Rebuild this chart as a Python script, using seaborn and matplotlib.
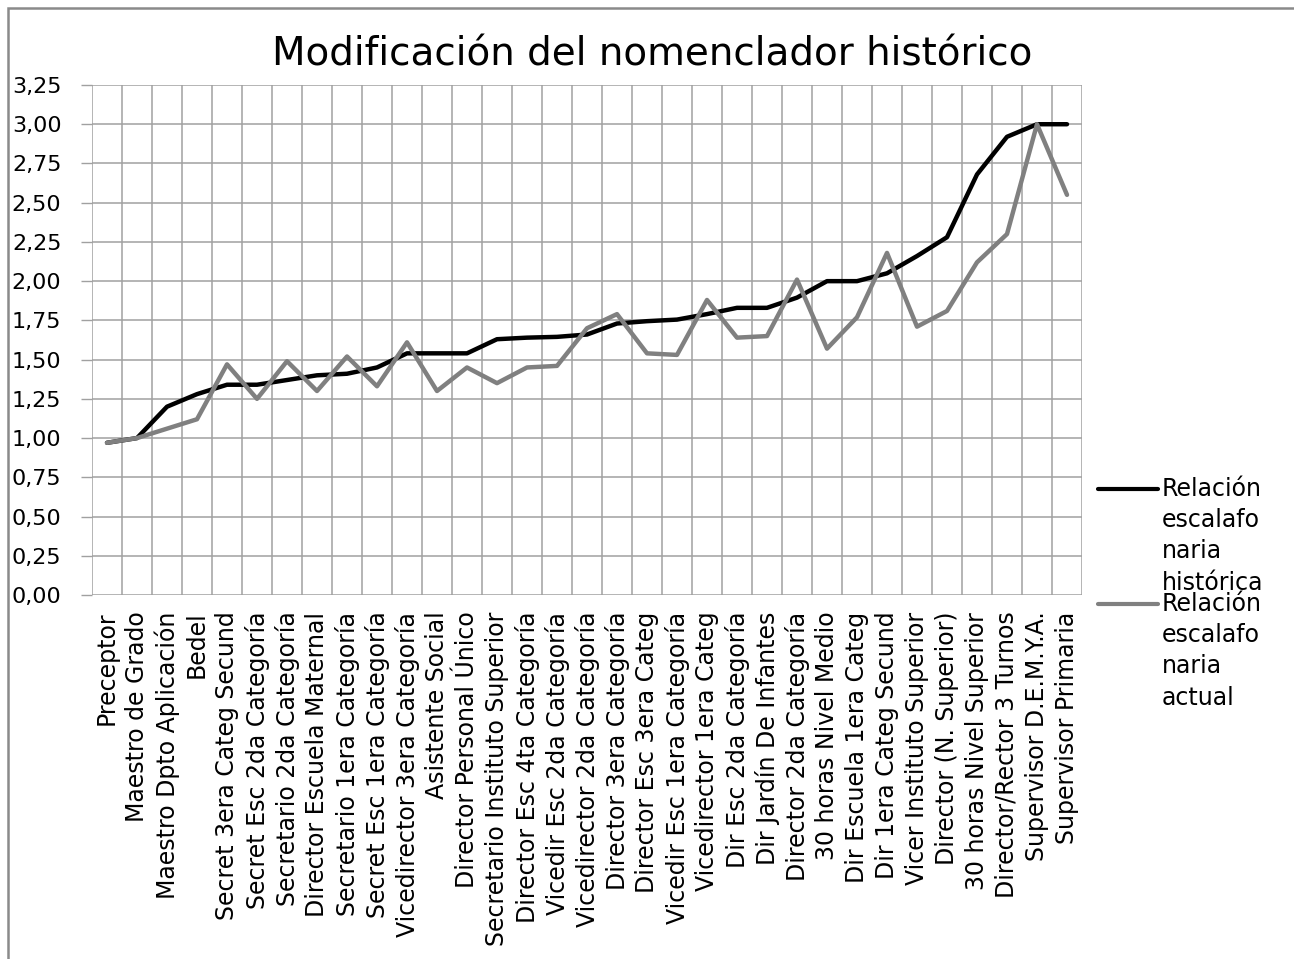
import matplotlib
matplotlib.use("Agg")
import matplotlib.pyplot as plt
import seaborn as sns
import pandas as pd
import numpy as np
from matplotlib.lines import Line2D
from matplotlib.patches import Rectangle

categories = [
    "Preceptor", "Maestro de Grado", "Maestro Dpto Aplicación", "Bedel",
    "Secret 3era Categ Secund", "Secret Esc 2da Categoría", "Secretario 2da Categoría",
    "Director Escuela Maternal", "Secretario 1era Categoría", "Secret Esc 1era Categoría",
    "Vicedirector 3era Categoría", "Asistente Social", "Director Personal Único",
    "Secretario Instituto Superior", "Director Esc 4ta Categoría", "Vicedir Esc 2da Categoría",
    "Vicedirector 2da Categoría", "Director 3era Categoría", "Director Esc 3era Categ",
    "Vicedir Esc 1era Categoría", "Vicedirector 1era Categ", "Dir Esc 2da Categoría",
    "Dir Jardín De Infantes", "Director 2da Categoría", "30 horas Nivel Medio",
    "Dir Escuela 1era Categ", "Dir 1era Categ Secund", "Vicer Instituto Superior",
    "Director (N. Superior)", "30 horas Nivel Superior", "Director/Rector 3 Turnos",
    "Supervisor D.E.M.Y.A.", "Supervisor Primaria",
]

historica = [0.97, 1.00, 1.20, 1.28, 1.34, 1.34, 1.37, 1.40, 1.41, 1.45,
             1.54, 1.54, 1.54, 1.63, 1.64, 1.645, 1.66, 1.73, 1.745, 1.755,
             1.79, 1.83, 1.83, 1.895, 2.00, 2.00, 2.05, 2.16, 2.28, 2.68,
             2.92, 3.00, 3.00]

actual = [0.97, 1.00, 1.06, 1.12, 1.47, 1.25, 1.49, 1.30, 1.52, 1.33,
          1.61, 1.30, 1.45, 1.35, 1.45, 1.46, 1.70, 1.79, 1.54, 1.53,
          1.88, 1.64, 1.65, 2.01, 1.57, 1.77, 2.18, 1.71, 1.81, 2.12,
          2.30, 3.00, 2.55]

series_names = ["Relación\nescalafo\nnaria\nhistórica", "Relación\nescalafo\nnaria\nactual"]
series_colors = ["#000000", "#808080"]
y_ticks = [0.0, 0.25, 0.5, 0.75, 1.0, 1.25, 1.5, 1.75, 2.0, 2.25, 2.5, 2.75, 3.0, 3.25]
title = "Modificación del nomenclador histórico"

n = len(categories)
df = pd.DataFrame({
    "idx": list(range(n)) * 2,
    "valor": historica + actual,
    "serie": [series_names[0]] * n + [series_names[1]] * n,
})

sns.set_theme(style="white")
plt.rcParams["font.family"] = ["DejaVu Sans"]
plt.rcParams["text.color"] = "black"
plt.rcParams["xtick.color"] = "black"
plt.rcParams["ytick.color"] = "black"

W, H = 1294, 959
fig = plt.figure(figsize=(W / 100, H / 100), dpi=100)
ax = fig.add_axes([92 / W, 1 - 595 / H, (1082 - 92) / W, (595 - 85) / H])

sns.lineplot(data=df, x="idx", y="valor", hue="serie", palette=series_colors,
             hue_order=series_names, sort=False, linewidth=3.2, legend=False, ax=ax,
             zorder=3)

ax.set_xlim(-0.5, n - 0.5)
ax.set_ylim(0, 3.25)
ax.set_xticks(range(n))
ax.set_xticklabels(categories, rotation=90, fontsize=17, va="top", ha="center",
                   color="black")
ax.set_xticks(np.arange(-0.5, n, 1.0), minor=True)
ax.set_yticks(y_ticks)
ax.set_yticklabels([f"{v:.2f}".replace(".", ",") for v in y_ticks], fontsize=16,
                   color="black")
ax.tick_params(axis="x", which="both", length=0, pad=12)
ax.tick_params(axis="y", which="major", length=8, width=1.0, color="#a0a0a0",
               direction="out", pad=14, left=True)
ax.grid(False)
ax.grid(True, axis="x", which="minor", color="#a0a0a0", linewidth=1.1)
ax.grid(True, axis="y", which="major", color="#a0a0a0", linewidth=1.1)
for s in ax.spines.values():
    s.set_visible(False)
ax.set_xlabel("")
ax.set_ylabel("")

fig.text(652.5 / W, 1 - 65 / H, title, fontsize=28, ha="center", va="baseline",
         color="black")

# legend (drawn manually so the key sits beside the first line of each label)
leg_rows = [489, 604]
for name, col, yy in zip(series_names, series_colors, leg_rows):
    fig.add_artist(Line2D([1098 / W, 1158 / W], [1 - yy / H, 1 - yy / H],
                          color=col, linewidth=3.0, transform=fig.transFigure))
    fig.text(1162 / W, 1 - (yy - 12) / H, name, fontsize=17, ha="left", va="top",
             linespacing=1.38, color="black")

fig.add_artist(Rectangle((8 / W, -0.1), 1.2, 1.1 - 8 / H, transform=fig.transFigure,
                         fill=False, edgecolor="#8a8a8a", linewidth=1.8))

fig.savefig("out.png", dpi=100)
